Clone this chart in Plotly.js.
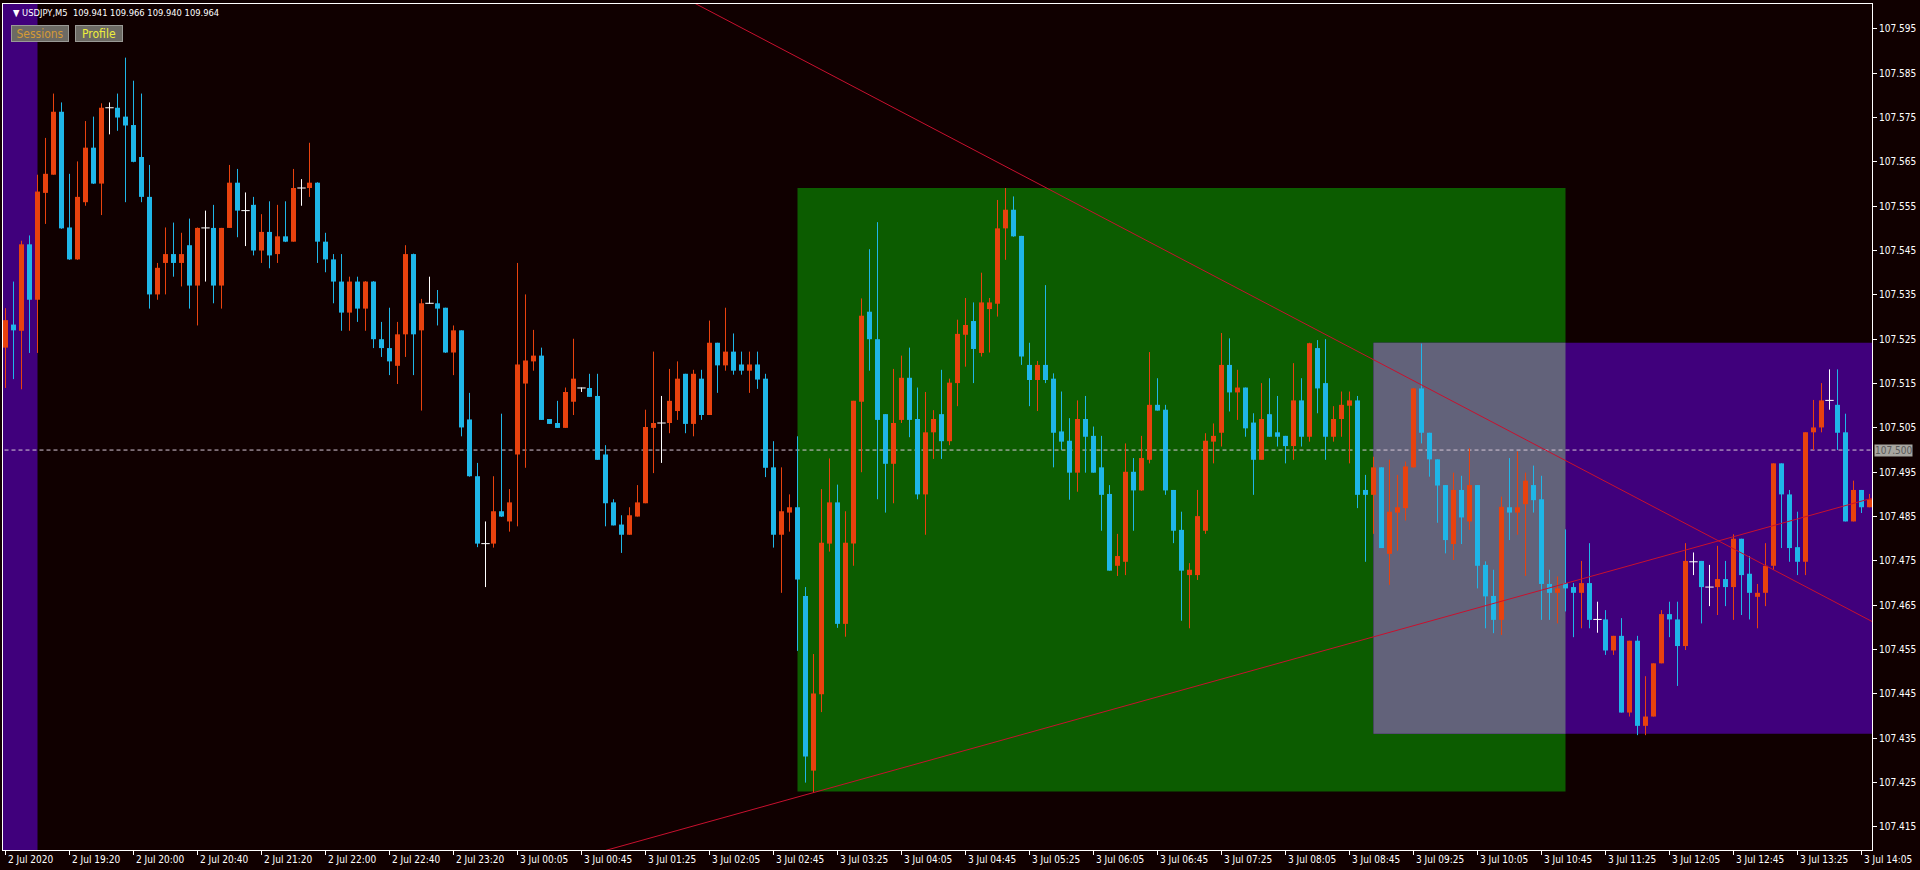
<!DOCTYPE html>
<html><head><meta charset="utf-8">
<script src="https://cdn.plot.ly/plotly-3.0.1.min.js"></script>
<style>html,body{margin:0;padding:0;background:#100000;overflow:hidden}#chart{width:1920px;height:870px}</style>
</head><body><div id="chart"></div><script>
// ---------- DATA ----------
const symbolName = 'USDJPY,M5';
const headerQuote = ['109.941', '109.966', '109.940', '109.964'];

const openP = [
107.5231,107.5283,107.5269,107.5464,107.5339,107.5580,107.5621,107.5763,107.5502,107.5430,
107.5559,107.5682,107.5601,107.5772,107.5772,107.5752,107.5733,107.5661,107.5571,107.5351,
107.5422,107.5442,107.5422,107.5462,107.5371,107.5501,107.5501,107.5371,107.5501,107.5603,
107.5540,107.5553,107.5450,107.5492,107.5442,107.5482,107.5470,107.5591,107.5591,107.5603,
107.5470,107.5430,107.5380,107.5310,107.5380,107.5319,107.5380,107.5250,107.5230,107.5190,
107.5261,107.5442,107.5270,107.5331,107.5331,107.5321,107.5220,107.5270,107.5069,107.4941,
107.4789,107.4789,107.4862,107.4839,107.4990,107.5150,107.5200,107.5213,107.5070,107.5061,
107.5050,107.5109,107.5140,107.5140,107.5122,107.4990,107.4882,107.4832,107.4809,107.4850,
107.4880,107.5050,107.5061,107.5061,107.5088,107.5172,107.5059,107.5161,107.5079,107.5242,
107.5191,107.5222,107.5193,107.5179,107.5193,107.5161,107.4961,107.4809,107.4859,107.4871,
107.4671,107.4277,107.4449,107.4789,107.4882,107.4608,107.4789,107.5109,107.5312,107.5250,
107.5081,107.4969,107.5068,107.5163,107.5070,107.4900,107.5040,107.5081,107.5020,107.5151,
107.5260,107.5291,107.5219,107.5318,107.5330,107.5500,107.5542,107.5483,107.5192,107.5158,
107.5192,107.5161,107.5042,107.5021,107.4949,107.5070,107.5032,107.4961,107.4901,107.4739,
107.4748,107.4951,107.4909,107.4978,107.5102,107.5091,107.4910,107.4820,107.4718,107.4718,
107.4818,107.5019,107.5039,107.5192,107.5130,107.5141,107.5062,107.4978,107.5081,107.5040,
107.5032,107.5009,107.5112,107.5030,107.5230,107.5151,107.5030,107.5070,107.5100,107.5112,
107.4910,107.4899,107.4961,107.4766,107.4859,107.4869,107.4961,107.5139,107.5039,107.4979,
107.4921,107.4788,107.4910,107.4839,107.4921,107.4741,107.4671,107.4617,107.4871,107.4859,
107.4878,107.4921,107.4889,107.4698,107.4678,107.4700,107.4691,107.4678,107.4700,107.4618,
107.4618,107.4548,107.4581,107.4408,107.4570,107.4378,107.4399,107.4519,107.4630,107.4618,
107.4558,107.4748,107.4750,107.4691,107.4691,107.4709,107.4691,107.4800,107.4721,107.4669,
107.4678,107.4739,107.4970,107.4900,107.4781,107.4748,107.5040,107.5051,107.5112,107.5102,
107.5040,107.4839,107.4910,107.4871];
const highP = [
107.5320,107.5380,107.5472,107.5484,107.5621,107.5704,107.5804,107.5784,107.5623,107.5651,
107.5742,107.5752,107.5782,107.5784,107.5804,107.5885,107.5833,107.5804,107.5643,107.5422,
107.5502,107.5513,107.5490,107.5522,107.5502,107.5540,107.5553,107.5501,107.5643,107.5634,
107.5581,107.5571,107.5532,107.5561,107.5553,107.5561,107.5634,107.5611,107.5693,107.5604,
107.5490,107.5442,107.5442,107.5391,107.5391,107.5381,107.5381,107.5289,107.5321,107.5289,
107.5462,107.5443,107.5341,107.5391,107.5361,107.5321,107.5281,107.5270,107.5129,107.4971,
107.4839,107.4941,107.5082,107.4912,107.5422,107.5351,107.5271,107.5231,107.5070,107.5111,
107.5141,107.5251,107.5141,107.5172,107.5172,107.5011,107.4889,107.4853,107.4871,107.4921,
107.5091,107.5222,107.5122,107.5183,107.5200,107.5172,107.5181,107.5181,107.5292,107.5242,
107.5321,107.5263,107.5222,107.5222,107.5222,107.5172,107.5020,107.4961,107.4900,107.5031,
107.4691,107.4540,107.4912,107.4981,107.4922,107.4862,107.5111,107.5342,107.5453,107.5514,
107.5081,107.5183,107.5213,107.5231,107.5141,107.5131,107.5090,107.5181,107.5161,107.5294,
107.5343,107.5333,107.5400,107.5343,107.5564,107.5591,107.5572,107.5483,107.5242,107.5201,
107.5372,107.5173,107.5132,107.5072,107.5112,107.5122,107.5053,107.5032,107.4921,107.4811,
107.5015,107.4982,107.5032,107.5221,107.5162,107.5102,107.4910,107.4861,107.4745,107.4910,
107.5038,107.5060,107.5264,107.5252,107.5181,107.5141,107.5083,107.5151,107.5162,107.5122,
107.5032,107.5196,107.5162,107.5242,107.5248,107.5250,107.5099,107.5132,107.5132,107.5122,
107.4944,107.4985,107.4961,107.4978,107.4944,107.4974,107.5140,107.5240,107.5039,107.4979,
107.4921,107.4949,107.4942,107.5004,107.4921,107.4749,107.4730,107.4895,107.4982,107.4997,
107.4949,107.4965,107.4942,107.4730,107.4715,107.4821,107.4700,107.4750,107.4790,107.4658,
107.4639,107.4581,107.4621,107.4570,107.4581,107.4490,107.4519,107.4639,107.4658,107.4658,
107.4790,107.4769,107.4750,107.4741,107.4784,107.4750,107.4810,107.4800,107.4761,107.4698,
107.4790,107.4970,107.4970,107.4910,107.4861,107.5040,107.5113,107.5151,107.5182,107.5182,
107.5082,107.4931,107.4910,107.4901];
const lowP = [
107.5140,107.5160,107.5137,107.5219,107.5219,107.5510,107.5621,107.5499,107.5429,107.5429,
107.5551,107.5600,107.5530,107.5712,107.5720,107.5559,107.5649,107.5559,107.5319,107.5339,
107.5351,107.5391,107.5369,107.5319,107.5281,107.5380,107.5331,107.5319,107.5501,107.5480,
107.5460,107.5439,107.5422,107.5410,107.5422,107.5469,107.5470,107.5551,107.5571,107.5422,
107.5401,107.5331,107.5269,107.5269,107.5289,107.5269,107.5230,107.5210,107.5169,107.5149,
107.5210,107.5169,107.5089,107.5330,107.5281,107.5219,107.5169,107.5031,107.4940,107.4781,
107.4691,107.4780,107.4849,107.4816,107.4828,107.4960,107.5179,107.5068,107.5059,107.5050,
107.5050,107.5079,107.5131,107.5120,107.4978,107.4828,107.4830,107.4768,107.4809,107.4850,
107.4880,107.4948,107.4971,107.5038,107.5068,107.5038,107.5031,107.5068,107.5079,107.5129,
107.5179,107.5170,107.5170,107.5129,107.5138,107.4939,107.4780,107.4678,107.4816,107.4547,
107.4250,107.4227,107.4409,107.4771,107.4599,107.4579,107.4739,107.4950,107.5179,107.4889,
107.4859,107.4880,107.5061,107.5029,107.4889,107.4809,107.4980,107.4980,107.5011,107.5099,
107.5188,107.5151,107.5211,107.5220,107.5301,107.5429,107.5481,107.5192,107.5099,107.5088,
107.5151,107.4961,107.5000,107.4888,107.4906,107.4949,107.4949,107.4818,107.4728,107.4716,
107.4718,107.4818,107.4908,107.4970,107.5089,107.4899,107.4790,107.4615,107.4598,107.4707,
107.4811,107.4970,107.5008,107.5087,107.5068,107.5030,107.4899,107.4978,107.5030,107.5008,
107.4970,107.4978,107.5008,107.5019,107.5083,107.4978,107.5019,107.5030,107.4970,107.4869,
107.4748,107.4811,107.4779,107.4696,107.4773,107.4841,107.4960,107.5015,107.4940,107.4836,
107.4767,107.4752,107.4788,107.4820,107.4688,107.4598,107.4587,107.4583,107.4797,107.4809,
107.4716,107.4859,107.4617,107.4617,107.4609,107.4636,107.4578,107.4598,107.4598,107.4588,
107.4538,107.4538,107.4408,107.4399,107.4357,107.4357,107.4399,107.4519,107.4578,107.4468,
107.4549,107.4718,107.4609,107.4648,107.4628,107.4648,107.4617,107.4628,107.4618,107.4598,
107.4648,107.4730,107.4779,107.4748,107.4718,107.4718,107.5000,107.5040,107.5091,107.5000,
107.4839,107.4839,107.4858,107.4871];
const closeP = [
107.5293,107.5270,107.5464,107.5339,107.5583,107.5623,107.5763,107.5500,107.5430,107.5571,
107.5682,107.5601,107.5772,107.5772,107.5750,107.5732,107.5650,107.5571,107.5351,107.5411,
107.5442,107.5422,107.5442,107.5371,107.5501,107.5501,107.5371,107.5501,107.5603,107.5540,
107.5540,107.5450,107.5492,107.5439,107.5482,107.5470,107.5591,107.5591,107.5603,107.5470,
107.5430,107.5380,107.5310,107.5380,107.5319,107.5380,107.5250,107.5230,107.5200,107.5261,
107.5442,107.5261,107.5331,107.5331,107.5319,107.5220,107.5270,107.5051,107.4941,107.4789,
107.4789,107.4862,107.4850,107.4882,107.5193,107.5202,107.5213,107.5068,107.5059,107.5050,
107.5131,107.5161,107.5140,107.5120,107.4978,107.4880,107.4830,107.4809,107.4853,107.4882,
107.5052,107.5061,107.5061,107.5111,107.5161,107.5059,107.5172,107.5079,107.5242,107.5191,
107.5222,107.5179,107.5179,107.5193,107.5159,107.4960,107.4809,107.4862,107.4871,107.4708,
107.4309,107.4451,107.4791,107.4882,107.4608,107.4791,107.5111,107.5303,107.5250,107.5068,
107.4969,107.5061,107.5163,107.5068,107.4900,107.5040,107.5070,107.5020,107.5152,107.5262,
107.5282,107.5228,107.5333,107.5333,107.5500,107.5542,107.5482,107.5211,107.5158,107.5192,
107.5158,107.5039,107.5019,107.4949,107.5070,107.5030,107.4949,107.4899,107.4728,107.4761,
107.4951,107.4909,107.4982,107.5102,107.5089,107.4909,107.4818,107.4728,107.4730,107.4851,
107.5021,107.5032,107.5192,107.5130,107.5141,107.5049,107.4978,107.5070,107.5030,107.5030,
107.5009,107.5112,107.5030,107.5241,107.5139,107.5030,107.5070,107.5102,107.5112,107.4899,
107.4899,107.4961,107.4779,107.4861,107.4871,107.4963,107.5139,107.5039,107.4979,107.4920,
107.4797,107.4910,107.4848,107.4921,107.4739,107.4670,107.4617,107.4872,107.4859,107.4871,
107.4931,107.4887,107.4698,107.4678,107.4688,107.4688,107.4678,107.4700,107.4617,107.4618,
107.4548,107.4581,107.4408,107.4570,107.4378,107.4399,107.4519,107.4630,107.4618,107.4558,
107.4750,107.4748,107.4691,107.4691,107.4709,107.4691,107.4800,107.4718,107.4678,107.4678,
107.4739,107.4970,107.4900,107.4779,107.4748,107.5040,107.5051,107.5112,107.5112,107.5039,
107.4839,107.4910,107.4871,107.4889];

// time-axis labels, one every 8 bars starting at bar 0
const timeLabels = ['2 Jul 2020','2 Jul 19:20','2 Jul 20:00','2 Jul 20:40','2 Jul 21:20','2 Jul 22:00',
 '2 Jul 22:40','2 Jul 23:20','3 Jul 00:05','3 Jul 00:45','3 Jul 01:25','3 Jul 02:05','3 Jul 02:45',
 '3 Jul 03:25','3 Jul 04:05','3 Jul 04:45','3 Jul 05:25','3 Jul 06:05','3 Jul 06:45','3 Jul 07:25',
 '3 Jul 08:05','3 Jul 08:45','3 Jul 09:25','3 Jul 10:05','3 Jul 10:45','3 Jul 11:25','3 Jul 12:05',
 '3 Jul 12:45','3 Jul 13:25','3 Jul 14:05'];
const labelStep = 8;
const priceTicks = [107.415,107.425,107.435,107.445,107.455,107.465,107.475,107.485,107.495,
 107.505,107.515,107.525,107.535,107.545,107.555,107.565,107.575,107.585,107.595];

// session boxes (bar index start/end, price low/high)
const sessionStart = [-92, 99, 171];
const sessionEnd   = [4, 195, 267];
const sessionLow   = [107.30, 107.4230, 107.4360];
const sessionHigh  = [107.70, 107.5591, 107.5242];

// trend lines (two anchor points each: bar index, price)
const trend1X = [80, 240];  const trend1Y = [107.6066, 107.4550];
const trend2X = [75, 240];  const trend2Y = [107.4097, 107.4925];

const markedLevel = 107.500;

// ---------- STYLE ----------
const BG = '#100000';
const UP = '#E8420E', DOWN = '#1FB6E8', DOJI = '#FFFFFF';
const sessionColors = ['#40007C', '#0C5C00', '#40007C'];
const overlapColor = '#62627A';
const TREND = '#C8102E';
const FONT = 'Tahoma, "DejaVu Sans Condensed", "Liberation Sans", sans-serif';

// ---------- BUILD ----------
const n = openP.length;
const idx = Array.from({length: n}, (_, i) => i);
const upI = idx.filter(i => closeP[i] > openP[i]);
const dnI = idx.filter(i => closeP[i] < openP[i]);
const djI = idx.filter(i => closeP[i] === openP[i]);

function wicks(list, color) {
  const x = [], y = [];
  list.forEach(i => { x.push(i, i, null); y.push(lowP[i], highP[i], null); });
  return {type: 'scatter', mode: 'lines', x, y, line: {color, width: 1}, hoverinfo: 'skip'};
}
function bodies(list, color) {
  return {type: 'bar', x: list,
    base: list.map(i => Math.min(openP[i], closeP[i])),
    y: list.map(i => Math.abs(closeP[i] - openP[i])),
    width: 0.625, marker: {color, line: {width: 0}}, hoverinfo: 'skip'};
}

const traces = [
  wicks(upI, UP), wicks(dnI, DOWN), wicks(djI, DOJI),
  bodies(upI, UP), bodies(dnI, DOWN),
  {type: 'scatter', mode: 'markers', x: djI, y: djI.map(i => openP[i]),
   marker: {symbol: 'line-ew', size: 6, line: {color: DOJI, width: 1}}, hoverinfo: 'skip'},
  {type: 'scatter', mode: 'lines', x: trend1X, y: trend1Y, line: {color: TREND, width: 1}, hoverinfo: 'skip'},
  {type: 'scatter', mode: 'lines', x: trend2X, y: trend2Y, line: {color: TREND, width: 1}, hoverinfo: 'skip'}
];

const shapes = [];
for (let s = 0; s < sessionStart.length; s++) {
  shapes.push({type: 'rect', xref: 'x', yref: 'y', layer: 'below',
    x0: sessionStart[s], x1: sessionEnd[s], y0: sessionLow[s], y1: sessionHigh[s],
    fillcolor: sessionColors[s], line: {width: 0}});
}
// overlap of sessions 1 and 2
shapes.push({type: 'rect', xref: 'x', yref: 'y', layer: 'below',
  x0: Math.max(sessionStart[1], sessionStart[2]), x1: Math.min(sessionEnd[1], sessionEnd[2]),
  y0: Math.max(sessionLow[1], sessionLow[2]), y1: Math.min(sessionHigh[1], sessionHigh[2]),
  fillcolor: overlapColor, line: {width: 0}});
// horizontal marked level (spans the whole time axis, clipped to the plot)
shapes.push({type: 'line', xref: 'x', yref: 'y', layer: 'below',
  x0: sessionStart[0], x1: sessionEnd[2],
  y0: markedLevel, y1: markedLevel, line: {color: '#D8C8D8', width: 1, dash: '4px,3px'}});

const tickIdx = timeLabels.map((_, k) => k * labelStep);
const annotations = timeLabels.map((t, k) => ({
  xref: 'x', yref: 'paper', x: tickIdx[k], y: 0, xanchor: 'left', yanchor: 'top',
  xshift: 0, yshift: -2, text: t, showarrow: false,
  font: {family: FONT, size: 10, color: '#FFFFFF'}
}));
annotations.push({xref: 'paper', yref: 'y', x: 1, y: markedLevel, xanchor: 'left', yanchor: 'middle',
  xshift: 2, text: markedLevel.toFixed(3), showarrow: false, bgcolor: '#A8A6A0',
  borderpad: 0, font: {family: FONT, size: 10, color: '#5A5A5A'}});
annotations.push({xref: 'paper', yref: 'paper', x: 0.0045, y: 0.9894, xanchor: 'left', yanchor: 'middle',
  showarrow: false, text: '\u25BC\u00A0' + symbolName + '\u00A0\u00A0' + headerQuote.join('\u00A0'),
  font: {family: FONT, size: 9.3, color: '#FFFFFF'}});
annotations.push({xref: 'paper', yref: 'paper', x: 0.01953, y: 0.9651, xanchor: 'center', yanchor: 'middle',
  showarrow: false, text: 'Sessions', width: 56, height: 15, bgcolor: '#6C6A64', bordercolor: '#9A9A96',
  borderwidth: 1, borderpad: 0, font: {family: FONT, size: 12, color: '#D49A36'}});
annotations.push({xref: 'paper', yref: 'paper', x: 0.05163, y: 0.9651, xanchor: 'center', yanchor: 'middle',
  showarrow: false, text: 'Profile', width: 46, height: 15, bgcolor: '#6C6A64', bordercolor: '#9A9A96',
  borderwidth: 1, borderpad: 0, font: {family: FONT, size: 12, color: '#EEEE3C'}});

const layout = {
  width: 1920, height: 870,
  margin: {l: 3, r: 48, t: 4, b: 20, pad: 0},
  paper_bgcolor: BG, plot_bgcolor: BG,
  showlegend: false, hovermode: false, barmode: 'overlay',
  xaxis: {range: [-0.3125, 233.3125], showgrid: false, zeroline: false,
    tickmode: 'array', tickvals: tickIdx, showticklabels: false,
    ticks: 'outside', ticklen: 4, tickcolor: '#FFFFFF', tickwidth: 1,
    showline: true, linecolor: '#FFFFFF', linewidth: 1, mirror: true, fixedrange: true},
  yaxis: {range: [107.4098, 107.6006], side: 'right', showgrid: false, zeroline: false,
    tickmode: 'array', tickvals: priceTicks, ticktext: priceTicks.map(v => v.toFixed(3)),
    ticks: 'outside', ticklen: 4, tickcolor: '#FFFFFF', tickwidth: 1,
    tickfont: {family: FONT, size: 10, color: '#FFFFFF'},
    showline: true, linecolor: '#FFFFFF', linewidth: 1, mirror: true, fixedrange: true},
  shapes, annotations
};

Plotly.newPlot('chart', traces, layout, {displayModeBar: false, staticPlot: true});
</script></body></html>
